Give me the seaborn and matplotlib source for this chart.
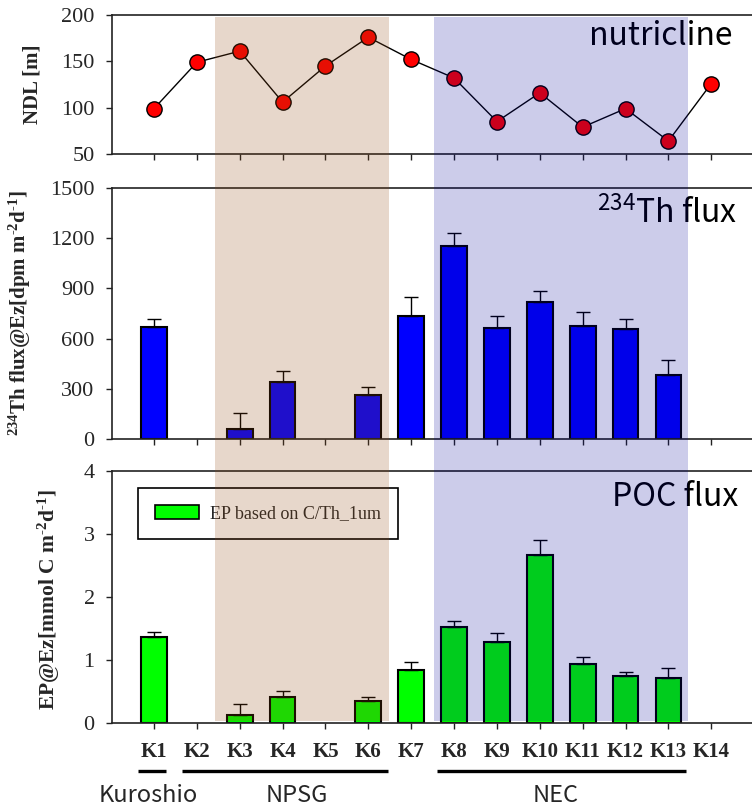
import numpy as np
import pandas as pd
import matplotlib
matplotlib.use("Agg")
import matplotlib.pyplot as plt
import matplotlib.transforms as mtrans
from matplotlib.patches import Rectangle, Patch
from matplotlib.lines import Line2D
import seaborn as sns

# ---------------- data ----------------
stations = ["K1", "K2", "K3", "K4", "K5", "K6", "K7",
            "K8", "K9", "K10", "K11", "K12", "K13", "K14"]
ndl = [99, 149, 161, 106, 145, 176, 152, 132, 85, 116, 79, 99, 64, 126]
th_flux = [670, np.nan, 60, 338, np.nan, 263, 737,
           1155, 665, 817, 677, 659, 384, np.nan]
th_err = [45, np.nan, 95, 68, np.nan, 48, 114,
          74, 70, 69, 80, 58, 86, np.nan]
ep_flux = [1.36, np.nan, 0.12, 0.42, np.nan, 0.35, 0.84,
           1.52, 1.29, 2.67, 0.93, 0.75, 0.71, np.nan]
ep_err = [0.09, np.nan, 0.18, 0.09, np.nan, 0.07, 0.13,
          0.10, 0.14, 0.23, 0.11, 0.06, 0.17, np.nan]
groups = ["Kuroshio", "NPSG", "NEC"]
legend_label = "EP based on C/Th_1um"

# ---------------- style ----------------
sns.set_style("ticks")
plt.rcParams["font.family"] = ["Liberation Serif", "DejaVu Serif"]
plt.rcParams["mathtext.default"] = "regular"

W, H = 752, 810
fig = plt.figure(figsize=(W / 100, H / 100), dpi=100)
fig.patch.set_facecolor("white")


def px_axes(left, top, right, bottom):
    return fig.add_axes([left / W, 1 - bottom / H, (right - left) / W, (bottom - top) / H])


ax1 = px_axes(112, 15, 752, 154)
ax2 = px_axes(112, 188, 752, 439)
ax3 = px_axes(112, 471, 752, 723)

x_idx = np.arange(len(stations))
df = pd.DataFrame({"station": stations, "x": x_idx, "ndl": ndl,
                   "th": th_flux, "th_err": th_err,
                   "ep": ep_flux, "ep_err": ep_err})

# top: nutricline depth
sns.lineplot(data=df, x="x", y="ndl", ax=ax1, color="black", lw=1,
             marker="o", markersize=11, markerfacecolor="#FF0000",
             markeredgecolor="black", markeredgewidth=1)

# middle: Th flux bars
sns.barplot(data=df, x="station", y="th", order=stations, ax=ax2,
            color="#0000FF", saturation=1, errorbar=None, width=0.6,
            edgecolor="black", linewidth=1.5)
m = df["th"].notna()
ax2.errorbar(df.loc[m, "x"], df.loc[m, "th"],
             yerr=[np.zeros(m.sum()), df.loc[m, "th_err"]],
             fmt="none", ecolor="black", elinewidth=1, capsize=4.7, capthick=1, zorder=5)

# bottom: POC flux bars
sns.barplot(data=df, x="station", y="ep", order=stations, ax=ax3,
            color="#00FF00", saturation=1, errorbar=None, width=0.6,
            edgecolor="black", linewidth=1.5)
m = df["ep"].notna()
ax3.errorbar(df.loc[m, "x"], df.loc[m, "ep"],
             yerr=[np.zeros(m.sum()), df.loc[m, "ep_err"]],
             fmt="none", ecolor="black", elinewidth=1, capsize=4.7, capthick=1, zorder=5)

# axes formatting
for ax, lim, ticks in [(ax1, (50, 200), [50, 100, 150, 200]),
                       (ax2, (0, 1500), [0, 300, 600, 900, 1200, 1500]),
                       (ax3, (0, 4), [0, 1, 2, 3, 4])]:
    ax.set_facecolor("none")
    ax.set_xlim(-0.98, 13.95)
    ax.set_ylim(*lim)
    ax.set_yticks(ticks)
    ax.set_xticks(x_idx)
    ax.set_xticklabels([])
    ax.set_xlabel("")
    for s in ["left", "bottom", "top"]:
        ax.spines[s].set_visible(True)
        ax.spines[s].set_color("#222222")
        ax.spines[s].set_linewidth(1.2)
    ax.spines["right"].set_visible(False)
    ax.tick_params(axis="both", direction="out", length=4.5, width=1,
                   color="#222222", labelsize=16, pad=8)
    ax.tick_params(axis="x", pad=2)
    for t in ax.get_yticklabels():
        t.set_family(["Liberation Serif"])

HY = "\N{HYPHEN}"
ax1.set_ylabel("NDL [m]", fontsize=15, fontweight="bold")
ax2.set_ylabel(r"$^{234}$Th flux@Ez[dpm m$^{" + HY + r"2}$d$^{" + HY + r"1}$]",
               fontsize=15, fontweight="bold")
ax3.set_ylabel(r"EP@Ez[mmol C m$^{" + HY + r"2}$d$^{" + HY + r"1}$]",
               fontsize=15.5, fontweight="bold")
ax1.yaxis.set_label_coords(-0.108, 0.5)
ax2.yaxis.set_label_coords(-0.124, 0.5)
ax3.yaxis.set_label_coords(-0.078, 0.49)

# panel titles (inside axes so the shading overlays them)
title_font = ["Noto Sans CJK SC", "DejaVu Sans"]
ax1.text(732 / W, 1 - 45 / H, "nutricline", transform=fig.transFigure, ha="right",
         va="baseline", fontsize=23, family=title_font, color="black")
ax2.text(737 / W, 1 - 223 / H, r"$^{234}$Th flux", transform=fig.transFigure, ha="right",
         va="baseline", fontsize=23, family=title_font, color="black")
ax3.text(738 / W, 1 - 506 / H, "POC flux", transform=fig.transFigure, ha="right",
         va="baseline", fontsize=23, family=title_font, color="black")

# legend
leg = ax3.legend(handles=[Patch(facecolor="#00FF00", edgecolor="black", linewidth=1.2,
                                label=legend_label)],
                 loc="upper left", bbox_to_anchor=(0.041, 0.933), borderaxespad=0,
                 frameon=True, fancybox=False, framealpha=1, edgecolor="black",
                 prop={"family": "Liberation Serif", "size": 13},
                 borderpad=0.95, handlelength=2.4, handleheight=0.8, handletextpad=0.6)
leg.get_frame().set_linewidth(1.2)

# station labels, underlines, group names
blend = mtrans.blended_transform_factory(ax3.transData, fig.transFigure)
for i, s in enumerate(stations):
    ax3.text(i, 1 - 752 / H, s, transform=blend, ha="center", va="center",
             fontsize=15, fontweight="bold", family=["Liberation Serif"], clip_on=False)
for x0, x1 in [(-0.38, 0.28), (0.65, 5.46), (6.6, 12.41)]:
    ax3.add_line(Line2D([x0, x1], [1 - 771 / H] * 2, transform=blend, color="black",
                        lw=2.4, clip_on=False, solid_capstyle="butt"))
for gx, g in zip([-0.14, 3.34, 9.38], groups):
    ax3.text(gx, 1 - 795 / H, g, transform=blend, ha="center", va="center",
             fontsize=17, family=["Noto Sans CJK SC", "DejaVu Sans"], clip_on=False)

# shaded regions overlaid across all panels
shade_t = mtrans.blended_transform_factory(ax3.transData, fig.transFigure)
y0, y1 = 1 - 721 / H, 1 - 17 / H
fig.add_artist(Rectangle((1.42, y0), 5.48 - 1.42, y1 - y0, transform=shade_t,
                         facecolor=(148 / 255, 74 / 255, 18 / 255), alpha=0.216,
                         edgecolor="none", zorder=10))
fig.add_artist(Rectangle((6.53, y0), 12.45 - 6.53, y1 - y0, transform=shade_t,
                         facecolor=(0, 0, 150 / 255), alpha=0.2,
                         edgecolor="none", zorder=10))

fig.savefig("out.png", dpi=100)
